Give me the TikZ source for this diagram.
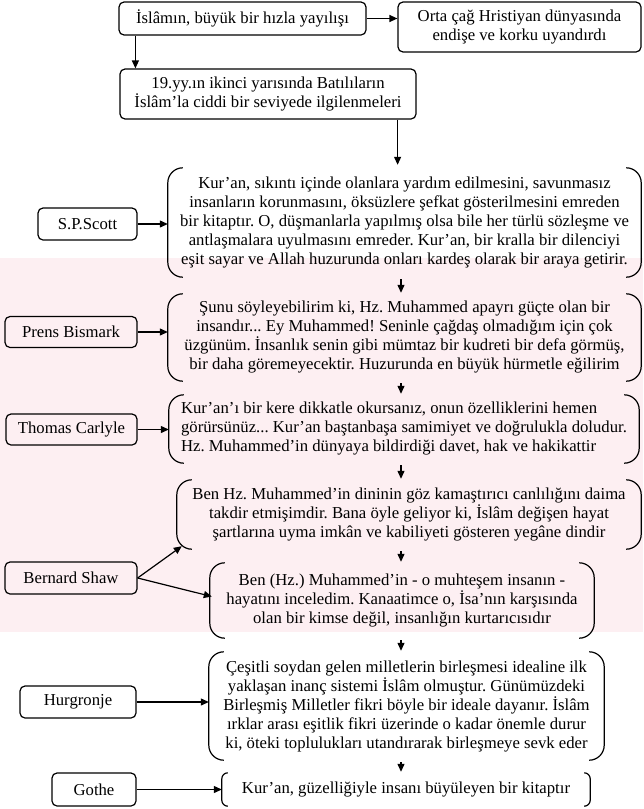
\documentclass[tikz,border=0pt]{standalone}
\usepackage{fontspec}
\setmainfont{Liberation Serif}
\usetikzlibrary{arrows.meta,positioning,backgrounds}
\definecolor{wmpink}{RGB}{253,239,242}
\frenchspacing
% round brackets drawn on both sides of a quote node
\newcommand{\brk}[2][15pt]{%
  \draw[brkline,rounded corners=#1] ([xshift=#1]#2.north west) -- (#2.north west) -- (#2.south west) -- ([xshift=#1]#2.south west);
  \draw[brkline,rounded corners=#1] ([xshift=-#1]#2.north east) -- (#2.north east) -- (#2.south east) -- ([xshift=-#1]#2.south east);}

\begin{document}
\begin{tikzpicture}[
 x=1pt,y=-1pt,
 font=\fontsize{16.7}{19}\selectfont,
 box/.style={draw,rounded corners=5pt,align=center,inner sep=0pt,line width=1.2pt},
 quote/.style={align=center,inner sep=0pt},
 brkline/.style={line width=1.2pt},
 arr/.style={-{Triangle[length=8pt,width=7pt]},line width=1.2pt}
]
\useasboundingbox (0,0) rectangle (643,809);
\coordinate (col) at (401,0);
% top chain
\node[box,minimum width=247pt,minimum height=33pt] (spread) at (242.5,18.5) {İslâmın, büyük bir hızla yayılışı};
\node[box,minimum width=243pt,minimum height=50pt] (fear) at (519.5,27) {Orta çağ Hristiyan dünyasında\\endişe ve korku uyandırdı};
\node[box,minimum width=296pt,minimum height=50pt] (west) at (268,94) {19.yy.ın ikinci yarısında Batılıların\\İslâm’la ciddi bir seviyede ilgilenmeleri};
% quotes
\node[quote,minimum width=473pt,minimum height=109pt] (scottq) at (404.5,222.5) {Kur’an, sıkıntı içinde olanlara yardım edilmesini, savunmasız\\insanların korunmasını, öksüzlere şefkat gösterilmesini emreden\\bir kitaptır. O, düşmanlarla yapılmış olsa bile her türlü sözleşme ve\\antlaşmalara uyulmasını emreder. Kur’an, bir kralla bir dilenciyi\\eşit sayar ve Allah huzurunda onları kardeş olarak bir araya getirir.};
\node[quote,minimum width=473pt,minimum height=87pt] (bismq) at (404.5,337.5) {Şunu söyleyebilirim ki, Hz. Muhammed apayrı güçte olan bir\\insandır... Ey Muhammed! Seninle çağdaş olmadığım için çok\\üzgünüm. İnsanlık senin gibi mümtaz bir kudreti bir defa görmüş,\\bir daha göremeyecektir. Huzurunda en büyük hürmetle eğilirim};
\node[quote,align=left,minimum width=470pt,minimum height=68pt] (carlq) at (404,429) {Kur’an’ı bir kere dikkatle okursanız, onun özelliklerini hemen\\görürsünüz... Kur’an baştanbaşa samimiyet ve doğrulukla doludur.\\Hz. Muhammed’in dünyaya bildirdiği davet, hak ve hakikattir};
\node[quote,minimum width=464pt,minimum height=69pt] (shawq1) at (409,514.5) {Ben Hz. Muhammed’in dininin göz kamaştırıcı canlılığını daima\\takdir etmişimdir. Bana öyle geliyor ki, İslâm değişen hayat\\şartlarına uyma imkân ve kabiliyeti gösteren yegâne dindir};
\node[quote,minimum width=384pt,minimum height=75pt] (shawq2) at (402,600.5) {Ben (Hz.) Muhammed’in - o muhteşem insanın -\\hayatını inceledim. Kanaatimce o, İsa’nın karşısında\\olan bir kimse değil, insanlığın kurtarıcısıdır};
\node[quote,minimum width=395pt,minimum height=108pt] (hurgq) at (406.5,706) {Çeşitli soydan gelen milletlerin birleşmesi idealine ilk\\yaklaşan inanç sistemi İslâm olmuştur. Günümüzdeki\\Birleşmiş Milletler fikri böyle bir ideale dayanır. İslâm\\ırklar arası eşitlik fikri üzerinde o kadar önemle durur\\ki, öteki toplulukları utandırarak birleşmeye sevk eder};
\node[quote,minimum width=368pt,minimum height=33pt] (gotheq) at (406,789.5) {Kur’an, güzelliğiyle insanı büyüleyen bir kitaptır};
\foreach \q in {scottq,bismq,carlq,shawq1,shawq2,hurgq} {\brk{\q}}
\brk[6pt]{gotheq}
% authors
\node[box,minimum width=99pt,minimum height=32pt] (scott) at (87.5,224) {S.P.Scott};
\node[box,minimum width=132pt,minimum height=31pt] (bism) at (71,332) {Prens Bismark};
\node[box,minimum width=131pt,minimum height=31pt] (carl) at (71.5,429.5) {Thomas Carlyle};
\node[box,minimum width=132pt,minimum height=32pt] (shaw) at (71,578) {Bernard Shaw};
\node[box,minimum width=116pt,minimum height=32pt] (hurg) at (78,702) {Hurgronje};
\node[box,minimum width=84pt,minimum height=33pt] (gothe) at (94,789.5) {Gothe};
% connectors
\draw[arr] (spread.east) -- (spread.east -| fear.west);
\draw[arr] ([xshift=17pt]spread.south west) -- ([xshift=17pt]spread.south west |- west.north);
\draw[arr,shorten >=3pt] ([xshift=-19pt]west.south east) -- ([xshift=-19pt]west.south east |- scottq.north);
\draw[arr,shorten <=2pt,shorten >=1pt] (scottq.south -| col) -- (bismq.north -| col);
\draw[arr,shorten <=2pt,shorten >=1pt] (bismq.south -| col) -- (carlq.north -| col);
\draw[arr,shorten <=2pt,shorten >=1pt] (carlq.south -| col) -- (shawq1.north -| col);
\draw[arr,shorten <=2pt,shorten >=1pt] (shawq1.south -| col) -- (shawq2.north -| col);
\draw[arr,shorten <=2pt,shorten >=1pt] (shawq2.south -| col) -- (hurgq.north -| col);
\draw[arr,shorten <=2pt,shorten >=1pt] (hurgq.south -| col) -- (gotheq.north -| col);
\draw[arr] (scott.east) -- (scott.east -| scottq.west);
\draw[arr] (bism.east) -- (bism.east -| bismq.west);
\draw[arr] (carl.east) -- (carl.east -| carlq.west);
\draw[arr] (shaw.east) -- ([xshift=5pt,yshift=3pt]shawq1.south west);
\draw[arr] (shaw.east) -- ([xshift=2pt,yshift=4pt]shawq2.west);
\draw[arr] (hurg.east) -- (hurg.east -| hurgq.west);
\draw[arr] (gothe.east) -- (gothe.east -| gotheq.west);
% faint band behind the middle part
\begin{scope}[on background layer]
\fill[wmpink] (0,258) rectangle (643,632);
\end{scope}
\end{tikzpicture}
\end{document}
